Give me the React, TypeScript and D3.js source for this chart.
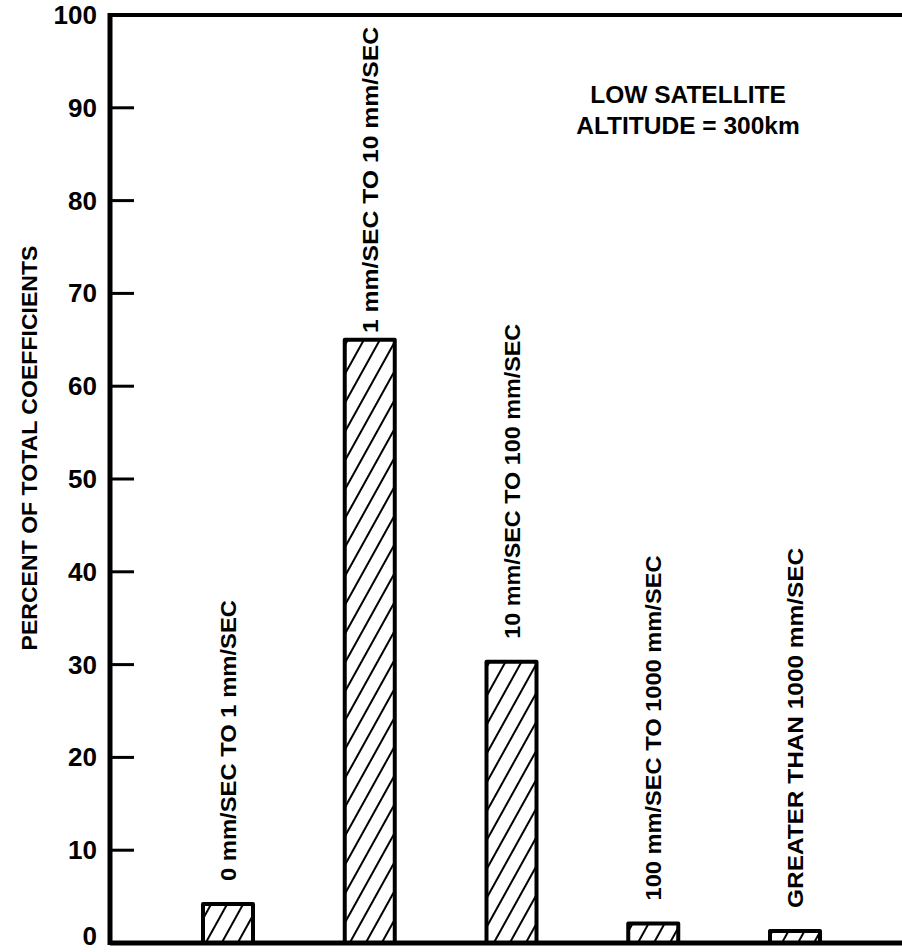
import React, { useEffect, useRef } from 'react';
import * as d3 from 'd3';

const categories = [
  '0 mm/SEC TO 1 mm/SEC',
  '1 mm/SEC TO 10 mm/SEC',
  '10 mm/SEC TO 100 mm/SEC',
  '100 mm/SEC TO 1000 mm/SEC',
  'GREATER THAN 1000 mm/SEC',
];
const percents = [4.2, 65, 30.3, 2.1, 1.3];
const yTicks = [0, 10, 20, 30, 40, 50, 60, 70, 80, 90, 100];
const yTitle = 'PERCENT OF TOTAL COEFFICIENTS';
const noteLines = ['LOW SATELLITE', 'ALTITUDE = 300km'];
// approximate printed lengths of the rotated bar labels
const labelLengths = [281, 306, 315, 345, 360];

const width = 902;
const height = 952;
const font = '"Liberation Sans", Arial, Helvetica, sans-serif';

export default function App() {
  const ref = useRef<SVGSVGElement>(null);

  useEffect(() => {
    const svg = d3.select(ref.current);
    svg.selectAll('*').remove();

    const axisX = 110;
    const y = d3.scaleLinear().domain([0, 100]).range([943, 15]);
    const x = d3.scalePoint<string>().domain(categories).range([228, 795]);
    const barW = 50;

    // hatch pattern
    const defs = svg.append('defs');
    const pat = defs
      .append('pattern')
      .attr('id', 'hatch')
      .attr('patternUnits', 'userSpaceOnUse')
      .attr('width', 14)
      .attr('height', 14)
      .attr('patternTransform', 'rotate(29)');
    pat.append('rect').attr('width', 14).attr('height', 14).attr('fill', '#fff');
    pat
      .append('line')
      .attr('x1', 7)
      .attr('x2', 7)
      .attr('y1', -2)
      .attr('y2', 16)
      .attr('stroke', '#000')
      .attr('stroke-width', 2);

    // bars
    svg
      .selectAll('.bar')
      .data(percents)
      .enter()
      .append('rect')
      .attr('class', 'bar')
      .attr('x', (d, i) => (x(categories[i]) as number) - barW / 2)
      .attr('y', (d) => y(d))
      .attr('width', barW)
      .attr('height', (d) => y(0) - y(d))
      .attr('fill', 'url(#hatch)')
      .attr('stroke', '#000')
      .attr('stroke-width', 4)
      .attr('stroke-linejoin', 'round');

    // rotated labels above bars
    svg
      .selectAll('.lbl')
      .data(percents)
      .enter()
      .append('text')
      .attr('class', 'lbl')
      .attr('transform', (d, i) => {
        const cx = (x(categories[i]) as number) + 8;
        const start = Math.max(y(d) - 23, 27 + labelLengths[i]);
        return `translate(${cx},${start}) rotate(-90)`;
      })
      .attr('textLength', (d, i) => labelLengths[i])
      .attr('lengthAdjust', 'spacingAndGlyphs')
      .style('font-family', font)
      .style('font-weight', 'bold')
      .style('font-size', '22px')
      .text((d, i) => categories[i]);

    // axis frame
    svg
      .append('line')
      .attr('x1', axisX)
      .attr('x2', axisX)
      .attr('y1', y(100) - 2)
      .attr('y2', y(0) + 2)
      .attr('stroke', '#000')
      .attr('stroke-width', 5);
    svg
      .append('line')
      .attr('x1', axisX)
      .attr('x2', width)
      .attr('y1', y(0))
      .attr('y2', y(0))
      .attr('stroke', '#000')
      .attr('stroke-width', 5);
    svg
      .append('line')
      .attr('x1', axisX)
      .attr('x2', width)
      .attr('y1', y(100))
      .attr('y2', y(100))
      .attr('stroke', '#000')
      .attr('stroke-width', 4);

    // ticks (inward)
    svg
      .selectAll('.tick')
      .data(yTicks.filter((t) => t > 0 && t < 100))
      .enter()
      .append('line')
      .attr('class', 'tick')
      .attr('x1', axisX)
      .attr('x2', axisX + 24)
      .attr('y1', (d) => y(d))
      .attr('y2', (d) => y(d))
      .attr('stroke', '#000')
      .attr('stroke-width', 3);

    svg
      .selectAll('.tlbl')
      .data(yTicks)
      .enter()
      .append('text')
      .attr('class', 'tlbl')
      .attr('x', 97)
      .attr('y', (d) => Math.min(y(d) + 9, 945))
      .attr('text-anchor', 'end')
      .style('font-family', font)
      .style('font-weight', 'bold')
      .style('font-size', '26px')
      .text((d) => d);

    // y title
    svg
      .append('text')
      .attr('transform', `translate(37,${448}) rotate(-90)`)
      .attr('text-anchor', 'middle')
      .attr('textLength', 405)
      .attr('lengthAdjust', 'spacingAndGlyphs')
      .style('font-family', font)
      .style('font-weight', 'bold')
      .style('font-size', '22px')
      .text(yTitle);

    // note
    svg
      .selectAll('.note')
      .data(noteLines)
      .enter()
      .append('text')
      .attr('class', 'note')
      .attr('x', 688)
      .attr('y', (d, i) => 103 + i * 31)
      .attr('text-anchor', 'middle')
      .style('font-family', font)
      .style('font-weight', 'bold')
      .style('font-size', '24.5px')
      .text((d) => d);
  }, []);

  return (
    <svg
      ref={ref}
      width={width}
      height={height}
      style={{ position: 'absolute', left: 0, top: 0, background: '#fff' }}
    />
  );
}
